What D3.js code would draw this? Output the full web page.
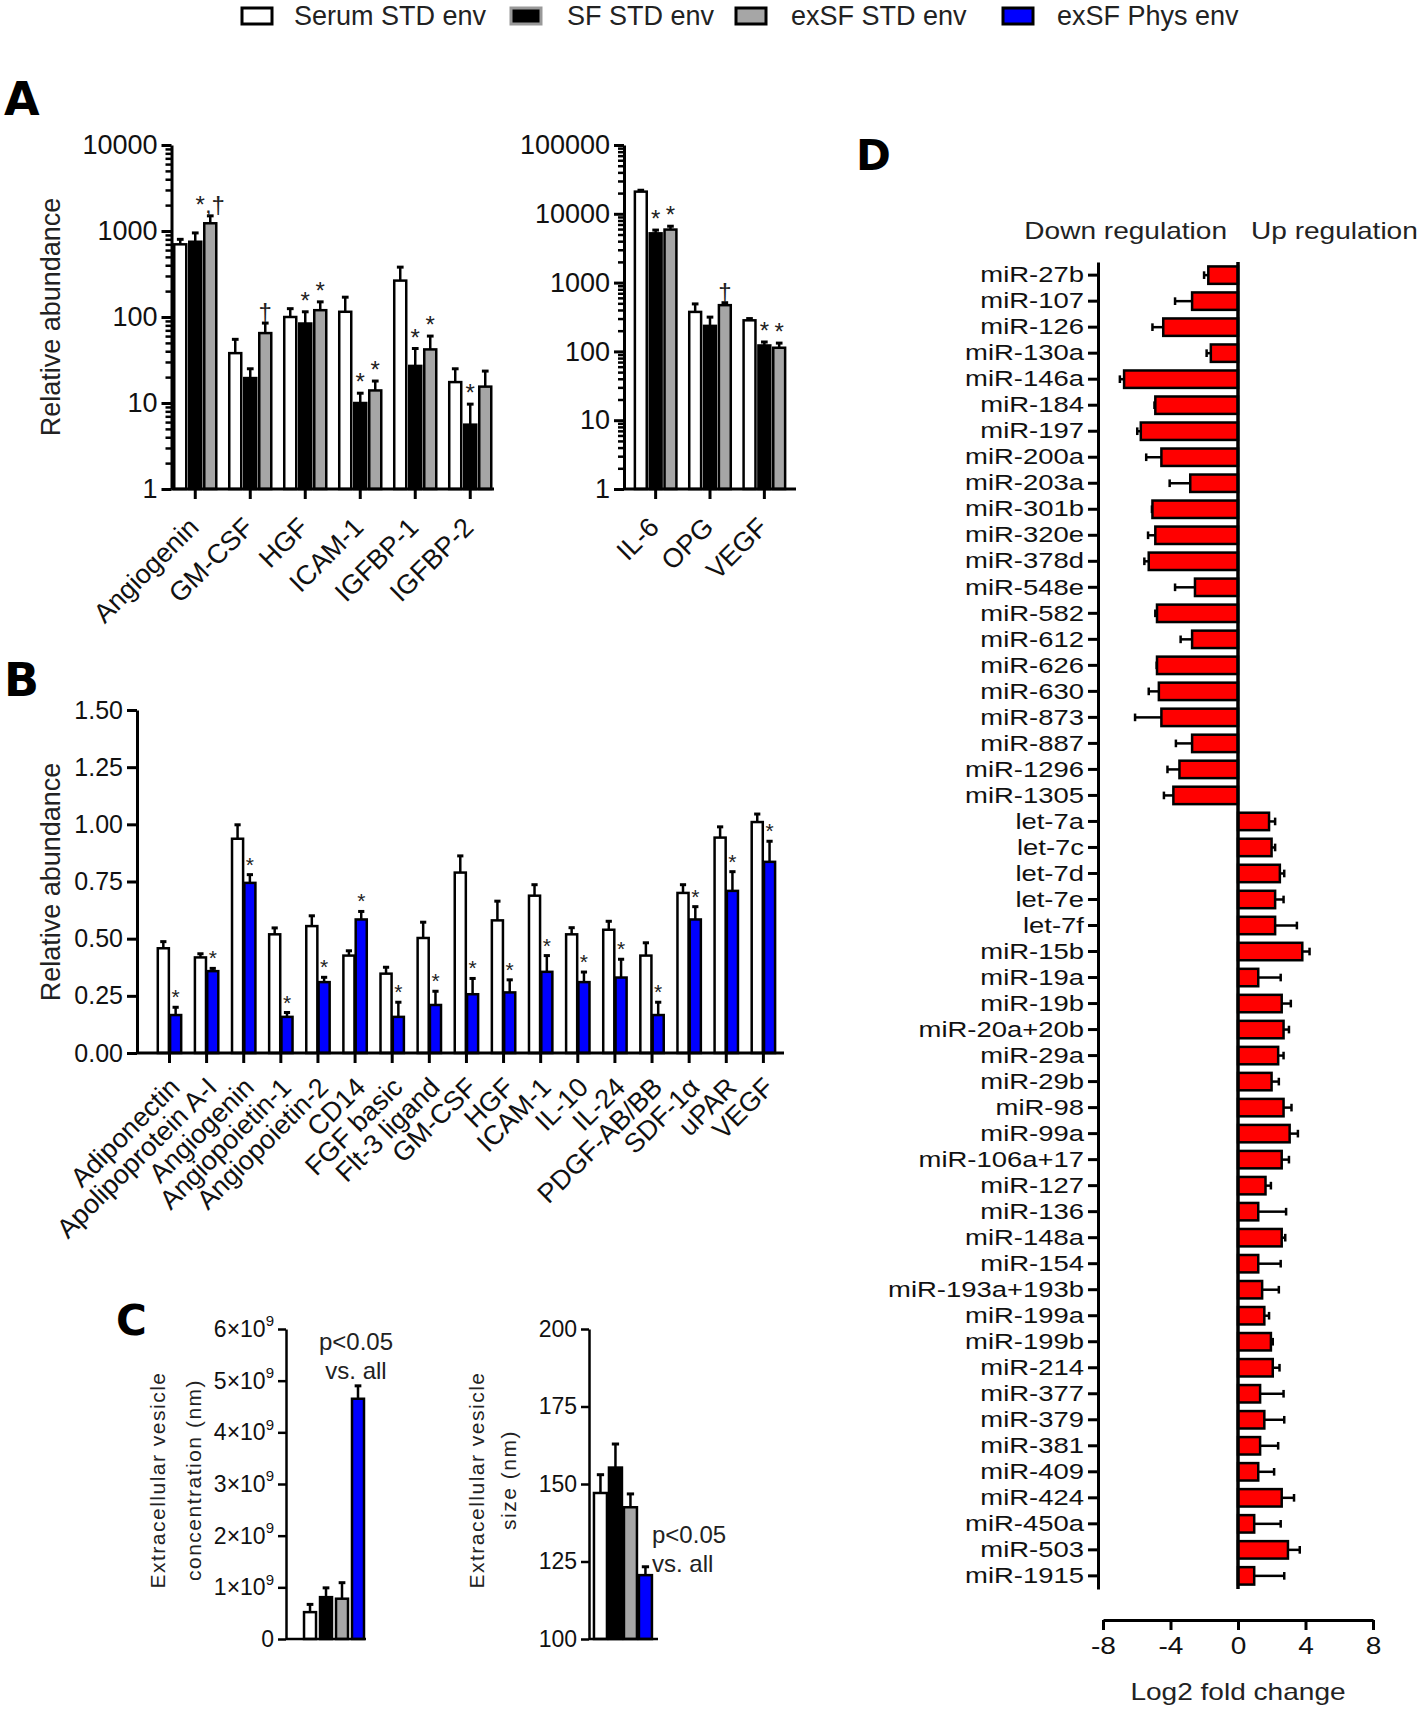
<!DOCTYPE html>
<html>
<head>
<meta charset="utf-8">
<script src="https://cdn.jsdelivr.net/npm/d3@7"></script>
<style>
body { margin: 0; background: #fff; }
svg { font-family: "Liberation Sans", Arial, sans-serif; }
</style>
</head>
<body>
<script>
// ---------- data ----------
var seriesNames = ["Serum STD env", "SF STD env", "exSF STD env", "exSF Phys env"];
var seriesFill = ["#ffffff", "#000000", "#a6a6a6", "#0000ff"];

// panel A, left plot
var aCatsL = ["Angiogenin", "GM-CSF", "HGF", "ICAM-1", "IGFBP-1", "IGFBP-2"];
var aSerumL = [700, 38, 100, 115, 265, 17.5];
var aSerumLErr = [800, 55, 125, 170, 380, 25];
var aSFL = [750, 19.5, 84, 10, 27, 5.6];
var aSFLErr = [950, 25, 115, 13, 43, 9.7];
var aExSFL = [1230, 65, 120, 14, 42, 15.5];
var aExSFLErr = [1500, 85, 150, 18, 60, 23.5];
var aMarksL = [["", "", "", "", "", ""], ["", "", "*", "*", "*", "*"], ["*,†", "†", "*", "*", "*", ""]];

// panel A, right plot
var aCatsR = ["IL-6", "OPG", "VEGF"];
var aSerumR = [21000, 375, 283];
var aSerumRErr = [22000, 490, 300];
var aSFR = [5200, 235, 122];
var aSFRErr = [5800, 315, 137];
var aExSFR = [5900, 470, 113];
var aExSFRErr = [6600, 510, 132];
var aMarksR = [["", "", ""], ["*", "", "*"], ["*", "†", "*"]];
var aTicksL = [1, 10, 100, 1000, 10000];
var aTicksR = [1, 10, 100, 1000, 10000, 100000];

// panel B
var bCats = ["Adiponectin", "Apolipoprotein A-I", "Angiogenin", "Angiopoietin-1", "Angiopoietin-2", "CD14",
  "FGF basic", "Flt-3 ligand", "GM-CSF", "HGF", "ICAM-1", "IL-10", "IL-24", "PDGF-AB/BB", "SDF-1α", "uPAR", "VEGF"];
var bSerum = [0.458, 0.418, 0.937, 0.519, 0.555, 0.426, 0.347, 0.503, 0.789, 0.58, 0.688, 0.519, 0.539, 0.426, 0.70, 0.942, 1.01];
var bSerumErr = [0.487, 0.434, 0.998, 0.547, 0.60, 0.447, 0.375, 0.572, 0.862, 0.664, 0.736, 0.548, 0.576, 0.482, 0.736, 0.989, 1.045];
var bPhys = [0.166, 0.358, 0.744, 0.158, 0.31, 0.584, 0.158, 0.21, 0.257, 0.265, 0.355, 0.31, 0.33, 0.166, 0.584, 0.709, 0.836];
var bPhysErr = [0.20, 0.37, 0.78, 0.177, 0.331, 0.619, 0.222, 0.27, 0.326, 0.32, 0.426, 0.354, 0.41, 0.222, 0.64, 0.793, 0.926];
var bMarks = [bCats.map(function() { return ""; }), bCats.map(function() { return "*"; })];
var bTicks = [0, 0.25, 0.5, 0.75, 1.0, 1.25, 1.5];

// panel C
var cConc = [0.52e9, 0.81e9, 0.78e9, 4.65e9];
var cConcErr = [0.67e9, 0.99e9, 1.09e9, 4.9e9];
var cConcTicks = [0, 1e9, 2e9, 3e9, 4e9, 5e9, 6e9];
var cSize = [147.1, 155.3, 142.5, 120.6];
var cSizeErr = [153, 162.9, 146.8, 123.3];
var cSizeTicks = [100, 125, 150, 175, 200];

// panel D (log2 fold change)
var dDownNames = ["miR-27b", "miR-107", "miR-126", "miR-130a", "miR-146a", "miR-184", "miR-197", "miR-200a", "miR-203a",
  "miR-301b", "miR-320e", "miR-378d", "miR-548e", "miR-582", "miR-612", "miR-626", "miR-630", "miR-873", "miR-887",
  "miR-1296", "miR-1305"];
var dDownVals = [-1.76, -2.72, -4.43, -1.61, -6.75, -4.9, -5.76, -4.54, -2.83, -5.07, -4.9, -5.29, -2.55, -4.8, -2.72,
  -4.8, -4.69, -4.54, -2.72, -3.47, -3.83];
var dDownErr = [-2.01, -3.73, -5.07, -1.86, -7.0, -4.95, -5.97, -5.44, -4.05, -5.1, -5.33, -5.55, -3.73, -4.9, -3.4,
  -4.82, -5.29, -6.1, -3.68, -4.18, -4.39];
var dUpNames = ["let-7a", "let-7c", "let-7d", "let-7e", "let-7f", "miR-15b", "miR-19a", "miR-19b", "miR-20a+20b", "miR-29a",
  "miR-29b", "miR-98", "miR-99a", "miR-106a+17", "miR-127", "miR-136", "miR-148a", "miR-154", "miR-193a+193b", "miR-199a",
  "miR-199b", "miR-214", "miR-377", "miR-379", "miR-381", "miR-409", "miR-424", "miR-450a", "miR-503", "miR-1915"];
var dUpVals = [1.84, 1.99, 2.48, 2.2, 2.2, 3.81, 1.2, 2.59, 2.7, 2.38, 1.99, 2.7, 3.06, 2.59, 1.63, 1.2, 2.59, 1.2,
  1.43, 1.56, 1.95, 2.06, 1.31, 1.56, 1.31, 1.2, 2.59, 0.96, 2.96, 0.96];
var dUpErr = [2.2, 2.2, 2.74, 2.7, 3.49, 4.24, 2.53, 3.13, 3.02, 2.7, 2.42, 3.17, 3.55, 3.02, 1.95, 2.85, 2.8, 2.53,
  2.42, 1.84, 2.06, 2.46, 2.7, 2.74, 2.38, 2.14, 3.32, 2.53, 3.66, 2.74];
var dTicks = [-8, -4, 0, 4, 8];

// ---------- drawing ----------
var svg = d3.select("body").append("svg").attr("width", 1418).attr("height", 1713);

function panelLetter(t, x, y, size) {
  svg.append("text").text(t).attr("x", x).attr("y", y)
    .attr("font-size", size + "px").attr("font-weight", "bold")
    .style("font-family", "'DejaVu Sans', Arial, sans-serif");
}

function yTitle(lines, x, cy, size, spacing, lh) {
  var t = svg.append("text")
    .attr("transform", "translate(" + x + "," + cy + ") rotate(-90)")
    .attr("text-anchor", "middle")
    .attr("font-size", size + "px")
    .attr("letter-spacing", spacing || 0)
    .attr("fill", "#222");
  lines.forEach(function(l, i) {
    t.append("tspan").attr("x", 0).attr("dy", i == 0 ? "0em" : (lh || 1.2) + "em").text(l);
  });
}

function styleAxis(g, width, fs) {
  g.select(".domain").attr("stroke-width", width);
  g.selectAll(".tick line").attr("stroke-width", width);
  g.selectAll(".tick text").attr("font-size", fs + "px").attr("fill", "#111")
    .style("font-family", "'Liberation Sans', Arial, sans-serif");
}

/*
Draws a grouped bar chart. vals, errs, marks are given per series (cols).
*/
function groupBars(p) {
  var x0 = d3.scaleBand().domain(p.cats).range(p.xr)
    .paddingInner(p.pi).paddingOuter(p.po).align(p.align == null ? 0.5 : p.align);
  var x1 = d3.scaleBand().domain(d3.range(p.cols.length)).range([0, x0.bandwidth()]).paddingInner(p.ip);
  var y = p.y;
  var base = y.domain()[0];
  var rows = [];
  p.cats.forEach(function(c, i) {
    p.cols.forEach(function(s, k) {
      rows.push({cat: c, k: k, s: s, v: p.vals[k][i], e: p.errs[k][i], m: p.marks ? p.marks[k][i] : ""});
    });
  });
  var bw = x1.bandwidth();
  function cx(d) { return x0(d.cat) + x1(d.k) + bw / 2; }
  var g = svg.append("g");

  g.selectAll(".err").data(rows).enter().append("line")
    .attr("x1", cx).attr("x2", cx)
    .attr("y1", function(d) { return y(d.v); })
    .attr("y2", function(d) { return y(d.e); })
    .attr("stroke", "#000").attr("stroke-width", 2.5);
  g.selectAll(".cap").data(rows).enter().append("line")
    .attr("x1", function(d) { return cx(d) - bw * 0.28; })
    .attr("x2", function(d) { return cx(d) + bw * 0.28; })
    .attr("y1", function(d) { return y(d.e); })
    .attr("y2", function(d) { return y(d.e); })
    .attr("stroke", "#000").attr("stroke-width", 3);

  g.selectAll(".bar").data(rows).enter().append("rect")
    .attr("x", function(d) { return x0(d.cat) + x1(d.k); })
    .attr("y", function(d) { return y(d.v); })
    .attr("width", bw)
    .attr("height", function(d) { return y(base) - y(d.v); })
    .attr("fill", function(d) { return seriesFill[d.s]; })
    .attr("stroke", "#000").attr("stroke-width", 2.5);

  g.selectAll(".mark").data(rows.filter(function(d) { return d.m; })).enter().append("text")
    .text(function(d) { return d.m; })
    .attr("x", cx)
    .attr("y", function(d) { return y(d.e) - 3; })
    .attr("text-anchor", "middle")
    .attr("font-size", p.markSize + "px")
    .attr("fill", "#222");

  // axes
  var ya = svg.append("g").attr("transform", "translate(" + p.xr[0] + ",0)");
  var yax = d3.axisLeft(y).tickValues(p.ticks).tickSize(p.yTick || 10).tickSizeOuter(0).tickPadding(4);
  if (p.tickFormat) yax.tickFormat(p.tickFormat);
  ya.call(yax);
  styleAxis(ya, p.axisW || 3, p.fs);
  if (p.minor) {
    var ma = svg.append("g").attr("transform", "translate(" + p.xr[0] + ",0)");
    ma.call(d3.axisLeft(y).tickValues(p.minor).tickSize(6).tickFormat(""));
    ma.select(".domain").remove();
    ma.selectAll(".tick line").attr("stroke-width", 2.5);
  }

  var xa = svg.append("g").attr("transform", "translate(0," + y(base) + ")");
  xa.call(d3.axisBottom(x0).tickSize(p.xTick == null ? 10 : p.xTick).tickSizeOuter(0).tickFormat(""));
  styleAxis(xa, p.axisW || 3, p.fs);
  xa.select(".domain").attr("d", "M" + p.xr[0] + ",0H" + p.xr[1]);

  if (p.catLabels !== false) {
    svg.append("g").selectAll("text").data(p.cats).enter().append("text")
      .text(function(d) { return d; })
      .attr("transform", function(d) {
        return "translate(" + (x0(d) + x0.bandwidth() / 2 + p.lx) + "," + (y(base) + p.ly) + ") rotate(-45)";
      })
      .attr("text-anchor", "end")
      .attr("font-size", p.cfs + "px")
      .attr("fill", "#111");
  }
  return ya;
}

function logMinor(dom) {
  var out = [];
  for (var e = Math.log10(dom[0]); e < Math.log10(dom[1]); e++) {
    for (var m = 2; m < 10; m++) out.push(m * Math.pow(10, e));
  }
  return out;
}

// ---------- legend ----------
var legX = [242, 511, 736, 1003];
var legTextX = [294, 567, 791, 1057];
var leg = svg.append("g");
seriesNames.forEach(function(n, i) {
  leg.append("rect").attr("x", legX[i]).attr("y", 8).attr("width", 30).attr("height", 16)
    .attr("fill", seriesFill[i]).attr("stroke", i == 1 ? "#999" : "#000").attr("stroke-width", 3);
  leg.append("text").text(n).attr("x", legTextX[i]).attr("y", 25)
    .attr("font-size", "27px").attr("fill", "#222");
});

// ---------- panel A ----------
panelLetter("A", 4, 115, 46);
yTitle(["Relative abundance"], 60, 317, 27);

var yAL = d3.scaleLog().domain([1, 10000]).range([489, 145]);
groupBars({
  cats: aCatsL, cols: [0, 1, 2],
  vals: [aSerumL, aSFL, aExSFL], errs: [aSerumLErr, aSFLErr, aExSFLErr], marks: aMarksL,
  xr: [171.5, 494], pi: 0.236, po: 0.05, ip: 0.2,
  y: yAL, ticks: aTicksL, minor: logMinor([1, 10000]), tickFormat: d3.format("d"),
  fs: 27, cfs: 27, lx: 5, ly: 40, markSize: 24
});

var yAR = d3.scaleLog().domain([1, 100000]).range([489, 145]);
groupBars({
  cats: aCatsR, cols: [0, 1, 2],
  vals: [aSerumR, aSFR, aExSFR], errs: [aSerumRErr, aSFRErr, aExSFRErr], marks: aMarksR,
  xr: [624, 796], pi: 0.236, po: 0.2, ip: 0.2,
  y: yAR, ticks: aTicksR, minor: logMinor([1, 100000]), tickFormat: d3.format("d"),
  fs: 27, cfs: 27, lx: 5, ly: 40, markSize: 24
});

// ---------- panel B ----------
panelLetter("B", 4, 696, 46);
yTitle(["Relative abundance"], 60, 882, 27);
var yB = d3.scaleLinear().domain([0, 1.5]).range([1053, 710]);
groupBars({
  cats: bCats, cols: [0, 3],
  vals: [bSerum, bPhys], errs: [bSerumErr, bPhysErr], marks: bMarks,
  xr: [137, 784], pi: 0.37, po: 0.4, ip: 0.1, align: 0.7,
  y: yB, ticks: bTicks, tickFormat: d3.format(".2f"),
  fs: 25, cfs: 27, lx: 12, ly: 36, markSize: 21
});

// ---------- panel C ----------
panelLetter("C", 116, 1335, 42);

function sciLabel(sel) {
  sel.each(function(d) {
    var t = d3.select(this).text(null);
    if (d == 0) { t.text("0"); return; }
    t.append("tspan").text((d / 1e9) + "×10");
    t.append("tspan").text("9").attr("font-size", "15px").attr("dy", "-0.7em");
  });
}

var yCL = d3.scaleLinear().domain([0, 6e9]).range([1639, 1329]);
var cAxisL = groupBars({
  cats: ["conc"], cols: [0, 1, 2, 3],
  vals: cConc.map(function(v) { return [v]; }),
  errs: cConcErr.map(function(v) { return [v]; }),
  xr: [286, 366], pi: 0, po: 0.167, ip: 0.25, align: 0.9, xTick: 0, yTick: 8, axisW: 2.5,
  y: yCL, ticks: cConcTicks, fs: 23, catLabels: false
});
cAxisL.selectAll(".tick text").call(sciLabel);
yTitle(["Extracellular vesicle", "concentration (nm)"], 165, 1480, 21, 1.5, 1.7);

var yCR = d3.scaleLinear().domain([100, 200]).range([1639, 1329]);
groupBars({
  cats: ["size"], cols: [0, 1, 2, 3],
  vals: cSize.map(function(v) { return [v]; }),
  errs: cSizeErr.map(function(v) { return [v]; }),
  xr: [589, 658], pi: 0, po: 0.095, ip: 0.133, align: 0.45, xTick: 0, yTick: 8, axisW: 2.5,
  y: yCR, ticks: cSizeTicks, fs: 23, catLabels: false
});
yTitle(["Extracellular vesicle", "size (nm)"], 484, 1480, 21, 1.5, 1.5);

function note(x, y, anchor) {
  var t = svg.append("text").attr("x", x).attr("y", y).attr("text-anchor", anchor)
    .attr("font-size", "24px").attr("fill", "#222");
  t.append("tspan").attr("x", x).text("p<0.05");
  t.append("tspan").attr("x", x).attr("dy", "1.2em").text("vs. all");
}
note(356, 1350, "middle");
note(652, 1543, "start");

// ---------- panel D ----------
panelLetter("D", 856, 170, 42);
var dNames = dDownNames.concat(dUpNames);
var dVals = dDownVals.concat(dUpVals);
var dErrs = dDownErr.concat(dUpErr);
var dRows = dNames.map(function(n, i) { return {name: n, v: dVals[i], e: dErrs[i]}; });

var yD = d3.scaleBand().domain(dNames).range([262, 1589]).paddingInner(0.33).paddingOuter(0.17);
var xD = d3.scaleLinear().domain([-8, 8]).range([1103, 1373]);
var gD = svg.append("g");
var bh = yD.bandwidth();
var SX = 1.22; // panel D text is drawn wide
function cyD(d) { return yD(d.name) + bh / 2; }

gD.selectAll(".err").data(dRows).enter().append("line")
  .attr("x1", function(d) { return xD(d.v); }).attr("x2", function(d) { return xD(d.e); })
  .attr("y1", cyD).attr("y2", cyD)
  .attr("stroke", "#000").attr("stroke-width", 2.5);
gD.selectAll(".cap").data(dRows).enter().append("line")
  .attr("x1", function(d) { return xD(d.e); }).attr("x2", function(d) { return xD(d.e); })
  .attr("y1", function(d) { return cyD(d) - bh * 0.22; })
  .attr("y2", function(d) { return cyD(d) + bh * 0.22; })
  .attr("stroke", "#000").attr("stroke-width", 2.5);
gD.selectAll(".bar").data(dRows).enter().append("rect")
  .attr("x", function(d) { return xD(Math.min(0, d.v)); })
  .attr("width", function(d) { return Math.abs(xD(d.v) - xD(0)); })
  .attr("y", function(d) { return yD(d.name); })
  .attr("height", bh)
  .attr("fill", "#ff0000").attr("stroke", "#000").attr("stroke-width", 2.5);
gD.append("line").attr("x1", xD(0)).attr("x2", xD(0)).attr("y1", 262).attr("y2", 1589)
  .attr("stroke", "#000").attr("stroke-width", 3.5);

var dCatAxis = svg.append("g").attr("transform", "translate(1098,0)");
dCatAxis.call(d3.axisLeft(yD).tickSize(10).tickSizeOuter(0).tickPadding(4));
styleAxis(dCatAxis, 3, 22.5);
dCatAxis.selectAll(".tick text")
  .attr("x", -14 / SX)
  .attr("transform", "scale(" + SX + ",1)");

var dValAxis = svg.append("g").attr("transform", "translate(0,1620)");
dValAxis.call(d3.axisBottom(xD).tickValues(dTicks).tickSize(10).tickSizeOuter(0).tickPadding(8)
  .tickFormat(function(d) { return String(d); }));
styleAxis(dValAxis, 3, 23);
dValAxis.selectAll(".tick text").attr("transform", "scale(" + SX + ",1)");

function wideText(t, x, y, anchor) {
  svg.append("text").text(t)
    .attr("transform", "translate(" + x + "," + y + ") scale(" + SX + ",1)")
    .attr("text-anchor", anchor).attr("font-size", "23px").attr("fill", "#222");
}
wideText("Log2 fold change", xD(0), 1700, "middle");
wideText("Down regulation", 1227, 239, "end");
wideText("Up regulation", 1251, 239, "start");
</script>
</body>
</html>
